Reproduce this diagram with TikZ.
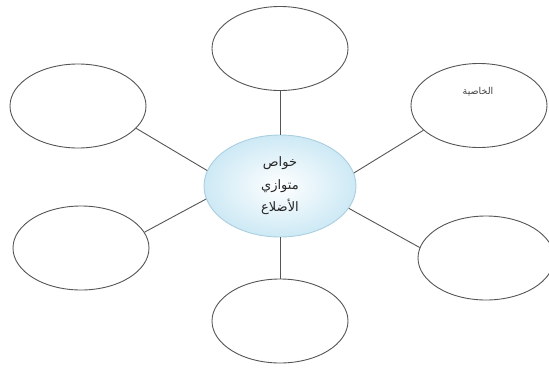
\documentclass[tikz,border=0pt]{standalone}
\usepackage{fontspec}
\TeXXeTstate=1
\newfontfamily\arabicfont[Script=Arabic]{DejaVu Sans}
\usetikzlibrary{shapes.geometric}
\definecolor{hubedge}{HTML}{A9CFE0}
\definecolor{hubfill}{HTML}{CDE9F5}
\definecolor{inkgray}{HTML}{555555}
\begin{document}
\begin{tikzpicture}[x=1pt,y=-1pt,
  leaf/.style={ellipse,draw=inkgray,line width=0.9pt,minimum width=136pt,minimum height=84pt,inner sep=0pt},
  hub/.style={ellipse,draw=hubedge,line width=0.9pt,inner color=white,outer color=hubfill,minimum width=152pt,minimum height=102pt,inner sep=0pt,align=center,text=black!85,font=\arabicfont\fontsize{13}{22.5}\selectfont},
  link/.style={draw=inkgray,line width=0.9pt},
  smalltext/.style={inner sep=0pt,text=black!75,font=\arabicfont\fontsize{9.5}{10}\selectfont}]
\useasboundingbox (0,0) rectangle (549,370);
\node[hub] (c) at (280,186) {\beginR خواص\endR\\\beginR متوازي\endR\\\beginR الأضلاع\endR};
\node[leaf] (t) at (280,48.5) {};
\node[leaf] (lt) at (78,106) {};
\node[leaf] (rt) at (479,105.5) {};
\node[leaf] (lb) at (81,248) {};
\node[leaf] (rb) at (486,258) {};
\node[leaf] (b) at (280,321) {};
\node[smalltext] (rtl) at (478,92) {\beginR الخاصية\endR};
\draw[link] (c.north) -- (t.south);
\draw[link] (c.south) -- (b.north);
\draw[link] (c.168) -- (lt.-21);
\draw[link] (c.10) -- (rt.204);
\draw[link] (c.190.6) -- (lb.14.7);
\draw[link] (c.-18) -- (rb.171);
\end{tikzpicture}
\end{document}
